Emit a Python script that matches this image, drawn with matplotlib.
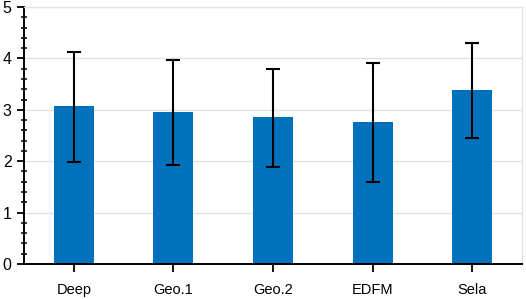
import numpy as np
import matplotlib
matplotlib.use("Agg")
import matplotlib.pyplot as plt
from matplotlib.ticker import MultipleLocator

plt.rcParams['font.family'] = ['Liberation Sans', 'DejaVu Sans']

methods = ['Deep', 'Geo.1', 'Geo.2', 'EDFM', 'Sela']
means = [3.07, 2.96, 2.86, 2.77, 3.38]
err_low = [1.99, 1.92, 1.89, 1.59, 2.45]
err_high = [4.12, 3.97, 3.80, 3.92, 4.30]

x = np.arange(len(methods))
means_a = np.array(means)
yerr = [means_a - np.array(err_low), np.array(err_high) - means_a]

fig = plt.figure(figsize=(5.26, 2.99), dpi=100)
ax = fig.add_axes([24 / 526, 35 / 299, 498 / 526, 257 / 299])

ax.bar(x, means, width=0.4, color='#0072BD', edgecolor='none', zorder=2)
ax.errorbar(x, means, yerr=yerr, fmt='none', ecolor='black',
            elinewidth=1.5, capsize=5, capthick=1.5, zorder=3)

ax.set_xlim(-0.5, 4.5)
ax.set_ylim(0, 5)
ax.set_xticks(x)
ax.set_xticklabels(methods, fontsize=10.5)
ax.yaxis.set_major_locator(MultipleLocator(1))
ax.yaxis.set_minor_locator(MultipleLocator(0.2))
ax.tick_params(axis='y', which='major', direction='out', length=5, width=1.3,
               labelsize=11.5, pad=4)
ax.tick_params(axis='y', which='minor', direction='inout', length=5, width=1.1)
ax.tick_params(axis='x', which='major', direction='out', length=6, width=1.3,
               pad=8)

ax.grid(axis='y', color='#e2e2e2', linewidth=1, zorder=0)
ax.set_axisbelow(True)

for s in ['left', 'bottom']:
    ax.spines[s].set_color('black')
    ax.spines[s].set_linewidth(1.4)
for s in ['top', 'right']:
    ax.spines[s].set_color('#e2e2e2')
    ax.spines[s].set_linewidth(1)

fig.savefig('out.png', dpi=100)
